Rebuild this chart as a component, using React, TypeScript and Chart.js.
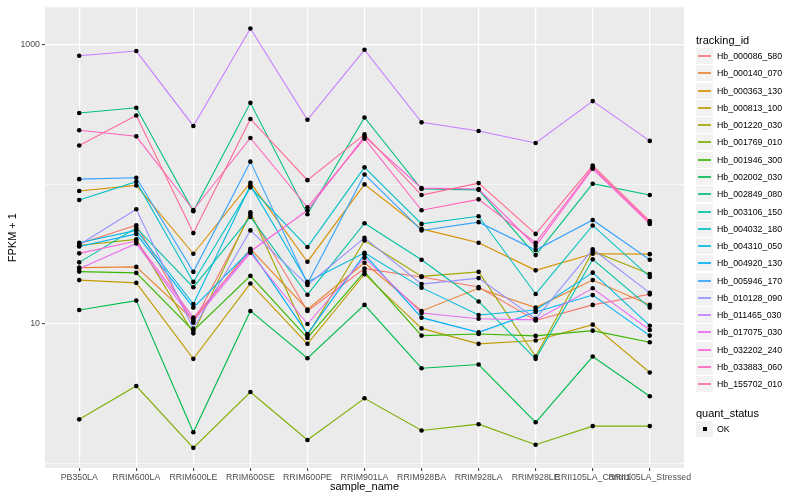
import React, { useEffect, useRef } from "react";
import { Chart, registerables } from "chart.js";

Chart.register(...registerables);

const categories = [
  "PB350LA", "RRIM600LA", "RRIM600LE", "RRIM600SE", "RRIM600PE", "RRIM901LA",
  "RRIM928BA", "RRIM928LA", "RRIM928LE", "RRII105LA_Control", "RRII105LA_Stressed",
];

const trackingIds = [
  "Hb_000086_580", "Hb_000140_070", "Hb_000363_130", "Hb_000813_100", "Hb_001220_030",
  "Hb_001769_010", "Hb_001946_300", "Hb_002002_030", "Hb_002849_080", "Hb_003106_150",
  "Hb_004032_180", "Hb_004310_050", "Hb_004920_130", "Hb_005946_170", "Hb_010128_090",
  "Hb_011465_030", "Hb_017075_030", "Hb_032202_240", "Hb_033883_060", "Hb_155702_010",
];

const seriesColors = [
  "#F8766D", "#EA8331", "#D89000", "#C09B00", "#A3A500",
  "#7CAE00", "#39B600", "#00BB4E", "#00BF7D", "#00C1A3",
  "#00BFC4", "#00BAE0", "#00B0F6", "#35A2FF", "#9590FF",
  "#C77CFF", "#E76BF3", "#FA62DB", "#FF62BC", "#FF6C91",
];

// FPKM + 1 values, one per sample (same order as categories)
const Hb_000086_580 = [37.5, 50.9, 10.2, 60.7, 12.4, 24.9, 21.7, 18.4, 10.6, 13.7, 16.3];
const Hb_000140_070 = [25.3, 25.6, 10.7, 34.5, 12.7, 27.4, 12.4, 18.0, 13.1, 20.6, 13.7];
const Hb_000363_130 = [89.3, 98.0, 31.8, 102.5, 27.9, 99.7, 47.9, 38.1, 24.2, 31.8, 31.6];
const Hb_000813_100 = [20.6, 19.7, 5.63, 19.5, 7.21, 22.7, 9.3, 7.21, 7.61, 9.89, 4.5];
const Hb_001220_030 = [36.4, 40.3, 8.57, 63.0, 8.26, 39.6, 21.9, 23.6, 5.85, 33.2, 22.8];
const Hb_001769_010 = [2.08, 3.6, 1.3, 3.26, 1.48, 2.94, 1.73, 1.92, 1.37, 1.86, 1.86];
const Hb_001946_300 = [23.7, 23.2, 8.96, 22.1, 7.95, 23.6, 8.26, 8.49, 8.22, 8.96, 7.4];
const Hb_002002_030 = [12.6, 14.7, 1.68, 12.4, 5.69, 13.7, 4.83, 5.13, 1.98, 5.85, 3.04];
const Hb_002849_080 = [323, 352, 64.0, 382, 61.0, 300, 92.3, 91.1, 31.1, 100.8, 83.6];
const Hb_003106_150 = [27.6, 48.7, 18.3, 58.3, 16.2, 52.6, 28.8, 14.5, 5.63, 29.0, 13.1];
const Hb_004032_180 = [77.1, 104.2, 20.0, 94.9, 35.5, 132, 52.0, 59.0, 16.4, 50.7, 21.7];
const Hb_004310_050 = [38.1, 46.7, 13.9, 98.0, 20.0, 32.3, 18.2, 11.6, 12.6, 23.3, 9.72];
const Hb_004920_130 = [35.8, 44.1, 13.1, 33.6, 8.49, 31.5, 11.1, 8.71, 12.2, 16.1, 8.26];
const Hb_005946_170 = [108.7, 111.2, 23.6, 145, 19.5, 117.4, 46.7, 53.5, 33.8, 55.5, 28.8];
const Hb_010128_090 = [36.9, 66.2, 9.26, 46.7, 19.0, 41.3, 19.3, 21.3, 10.9, 34.2, 16.7];
const Hb_011465_030 = [830, 896, 261, 1300, 289, 915, 277, 240, 197, 393, 204];
const Hb_017075_030 = [24.8, 37.7, 10.5, 32.3, 10.0, 29.8, 12.0, 10.9, 10.7, 18.0, 9.06];
const Hb_032202_240 = [32.0, 39.2, 11.1, 33.0, 65.1, 219, 93.8, 92.3, 36.1, 129, 52.0];
const Hb_033883_060 = [243, 220, 65.4, 214, 68.4, 212, 65.1, 77.9, 38.1, 132, 53.0];
const Hb_155702_010 = [189, 310, 44.7, 293, 106.9, 227, 83.6, 101.8, 44.1, 136, 54.4];

const seriesValues = [
  Hb_000086_580, Hb_000140_070, Hb_000363_130, Hb_000813_100, Hb_001220_030,
  Hb_001769_010, Hb_001946_300, Hb_002002_030, Hb_002849_080, Hb_003106_150,
  Hb_004032_180, Hb_004310_050, Hb_004920_130, Hb_005946_170, Hb_010128_090,
  Hb_011465_030, Hb_017075_030, Hb_032202_240, Hb_033883_060, Hb_155702_010,
];

const yGridValues = [1, 10, 100, 1000];
const yTickLabels = [10, 1000];
const quantStatus = ["OK"];

const FONT = '"Liberation Sans", Arial, Helvetica, sans-serif';

export default function App() {
  const canvasRef = useRef<HTMLCanvasElement>(null);

  useEffect(() => {
    const canvas = canvasRef.current;
    if (!canvas) return;

    const panelBg = {
      id: "panelBg",
      beforeDraw(chart: any) {
        const { ctx, chartArea: a } = chart;
        ctx.save();
        ctx.fillStyle = "#ebebeb";
        ctx.fillRect(a.left, a.top, a.right - a.left, a.bottom - a.top);
        ctx.restore();
      },
    };

    const lineSets = seriesValues.map((vals, i) => ({
      label: trackingIds[i],
      data: vals.map((v, j) => ({ x: j, y: v })),
      borderColor: seriesColors[i],
      backgroundColor: seriesColors[i],
      borderWidth: 1.1,
      pointRadius: 0,
      pointHoverRadius: 0,
      fill: false,
      tension: 0,
      order: 100 - i,
    }));

    const pointSets = seriesValues.map((vals, i) => ({
      label: trackingIds[i] + " " + quantStatus[0],
      data: vals.map((v, j) => ({ x: j, y: v })),
      showLine: false,
      pointRadius: 2.3,
      pointHoverRadius: 2.3,
      pointBackgroundColor: "#000000",
      pointBorderColor: "#000000",
      pointBorderWidth: 0,
      order: 0,
    }));

    const chart = new Chart(canvas, {
      type: "line",
      data: { datasets: [...lineSets, ...pointSets] as any },
      options: {
        animation: false,
        responsive: false,
        maintainAspectRatio: false,
        events: [],
        layout: { padding: { top: 5, right: 116, left: 0, bottom: 0 } },
        plugins: { legend: { display: false }, tooltip: { enabled: false } },
        scales: {
          x: {
            type: "linear",
            min: -0.6,
            max: 10.6,
            afterBuildTicks: (s: any) => {
              s.ticks = categories.map((_, i) => ({ value: i }));
            },
            afterFit: (s: any) => {
              s.height = 32;
            },
            ticks: {
              callback: (v: any) => categories[Number(v)] ?? "",
              color: "#4d4d4d",
              font: { size: 8.8, family: FONT },
              maxRotation: 0,
              minRotation: 0,
              autoSkip: false,
              padding: 1,
            },
            grid: {
              color: "#ffffff",
              lineWidth: 1.2,
              tickLength: 3,
              tickColor: "#333333",
              tickWidth: 1,
            },
            border: { display: false },
            title: {
              display: true,
              text: "sample_name",
              color: "#000000",
              font: { size: 11, family: FONT },
              padding: { top: 0, bottom: 6 },
            },
          },
          y: {
            type: "logarithmic",
            min: 0.933,
            max: 1843,
            afterBuildTicks: (s: any) => {
              s.ticks = yGridValues.map((v) => ({ value: v }));
            },
            afterFit: (s: any) => {
              s.width = 45;
            },
            ticks: {
              callback: (v: any) => (yTickLabels.includes(Number(v)) ? String(v) : ""),
              color: "#4d4d4d",
              font: { size: 8.8, family: FONT },
              padding: 2,
              autoSkip: false,
            },
            grid: {
              color: "#ffffff",
              lineWidth: (c: any) => (yTickLabels.includes(c.tick?.value) ? 1.2 : 0.6),
              tickLength: 3,
              tickWidth: 1,
              tickColor: (c: any) => (yTickLabels.includes(c.tick?.value) ? "#333333" : "rgba(0,0,0,0)"),
            },
            border: { display: false },
            title: {
              display: true,
              text: "FPKM + 1",
              color: "#000000",
              font: { size: 11, family: FONT },
              padding: { top: 6.5, bottom: 0 },
            },
          },
        },
      } as any,
      plugins: [panelBg],
    });

    return () => chart.destroy();
  }, []);

  const keyH = 17.28;
  const firstKeyCenter = 56;

  return (
    <div
      style={{
        position: "fixed",
        left: 0,
        top: 0,
        width: 800,
        height: 500,
        background: "#ffffff",
        fontFamily: FONT,
        color: "#000000",
      }}
    >
      <canvas
        ref={canvasRef}
        width={800}
        height={500}
        style={{ position: "absolute", left: 0, top: 0, width: 800, height: 500 }}
      />
      <div style={{ position: "absolute", left: 696, top: 33, fontSize: 11, lineHeight: "14px", whiteSpace: "nowrap" }}>
        tracking_id
      </div>
      {trackingIds.map((id, i) => (
        <div
          key={id}
          style={{
            position: "absolute",
            left: 696,
            top: Math.round(firstKeyCenter + i * keyH - 8),
            height: 16,
            display: "flex",
            alignItems: "center",
            whiteSpace: "nowrap",
          }}
        >
          <div
            style={{
              width: 17,
              height: 16,
              background: "#f2f2f2",
              position: "relative",
            }}
          >
            <div
              style={{
                position: "absolute",
                left: 2,
                width: 13,
                top: 7,
                height: 2,
                background: seriesColors[i],
                opacity: 0.85,
              }}
            />
          </div>
          <span style={{ marginLeft: 4, fontSize: 8.8, lineHeight: "10px" }}>{id}</span>
        </div>
      ))}
      <div style={{ position: "absolute", left: 696, top: 405.5, fontSize: 11, lineHeight: "14px", whiteSpace: "nowrap" }}>
        quant_status
      </div>
      {quantStatus.map((s, i) => (
        <div
          key={s}
          style={{
            position: "absolute",
            left: 696,
            top: Math.round(429.3 - 8 + i * keyH),
            height: 16,
            display: "flex",
            alignItems: "center",
            whiteSpace: "nowrap",
          }}
        >
          <div style={{ width: 17, height: 16, background: "#f2f2f2", position: "relative" }}>
            <div
              style={{
                position: "absolute",
                left: 6.5,
                top: 6,
                width: 4,
                height: 4,
                background: "#000000",
              }}
            />
          </div>
          <span style={{ marginLeft: 4, fontSize: 8.8, lineHeight: "10px" }}>{s}</span>
        </div>
      ))}
    </div>
  );
}
